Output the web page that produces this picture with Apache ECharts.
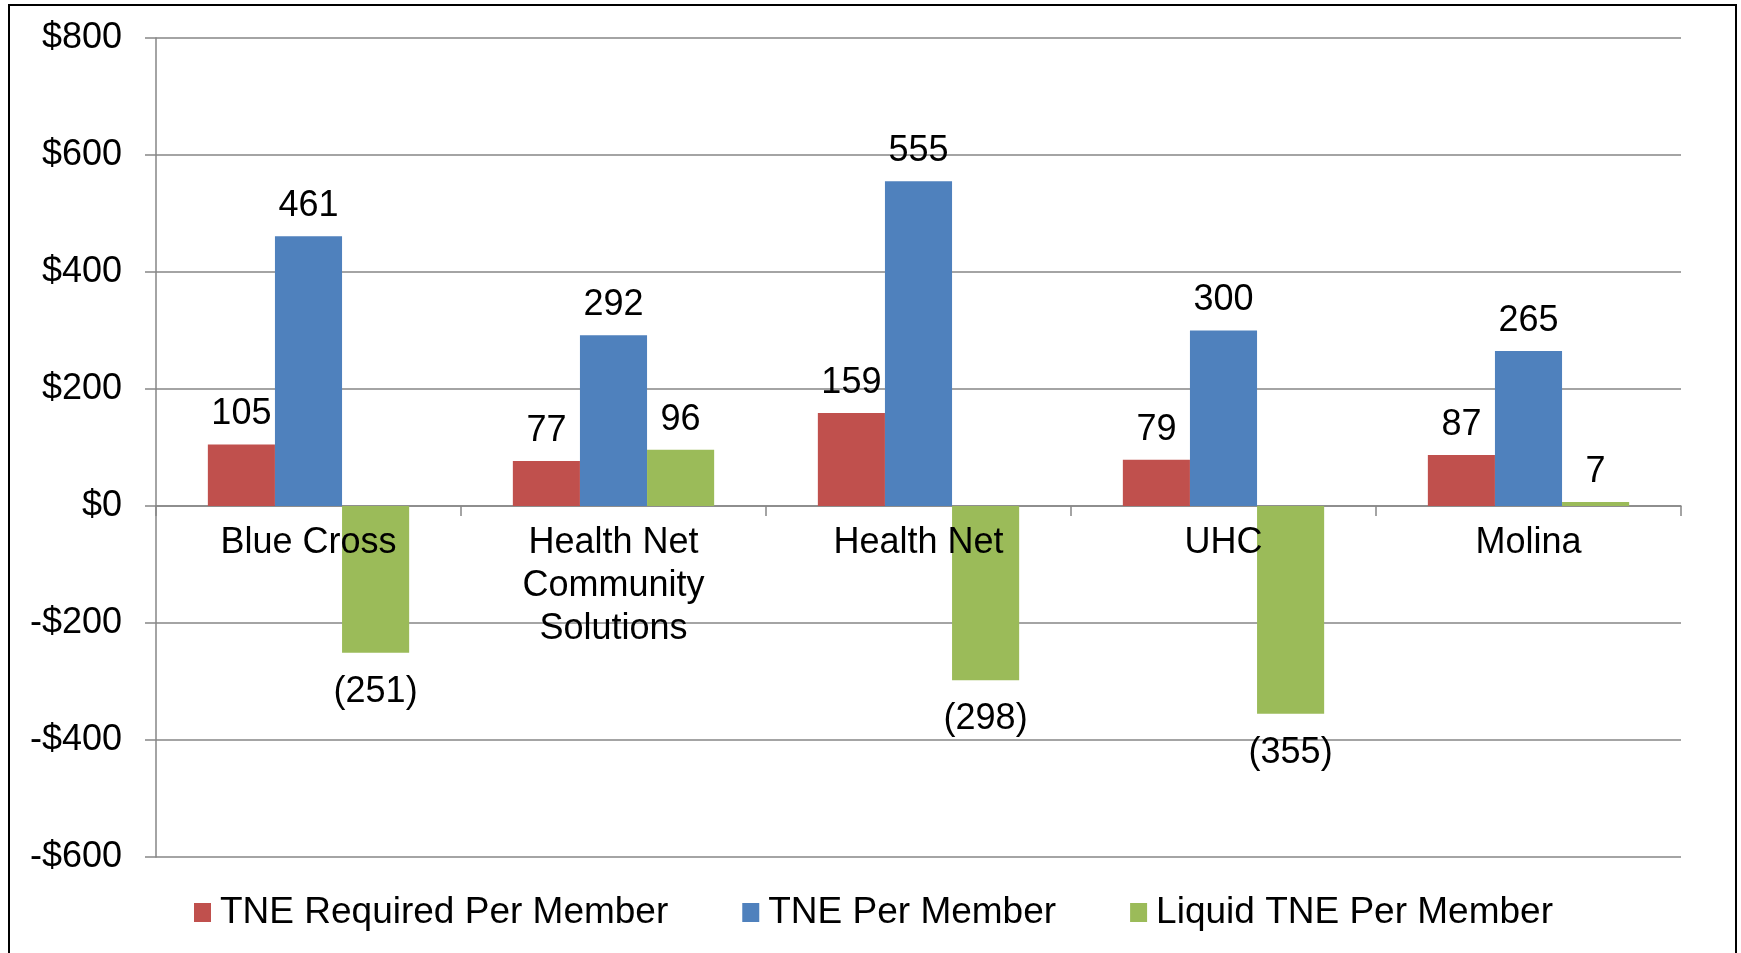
<!DOCTYPE html>
<html><head><meta charset="utf-8">
<script src="https://cdn.jsdelivr.net/npm/echarts@6/dist/echarts.min.js"></script>
<style>
html,body{margin:0;padding:0;background:#fff;}
#frame{position:absolute;left:8px;top:4px;width:1729px;height:960px;border:2px solid #000;border-bottom:none;box-sizing:border-box;}
#chart{position:absolute;left:0;top:0;width:1741px;height:953px;}
</style></head>
<body>
<div id="frame"></div>
<div id="chart"></div>
<script>
const categories = ['Blue Cross', 'Health Net\nCommunity\nSolutions', 'Health Net', 'UHC', 'Molina'];
const tneRequired = [105, 77, 159, 79, 87];
const tnePerMember = [461, 292, 555, 300, 265];
const liquidTne = [-251, 96, -298, -355, 7];
const seriesNames = ['TNE Required Per Member', 'TNE Per Member', 'Liquid TNE Per Member'];
const colors = ['#C0504D', '#4F81BD', '#9BBB59'];

const font = "'Liberation Sans', Arial, sans-serif";
const chart = echarts.init(document.getElementById('chart'));
function fmt(v){ return v < 0 ? '(' + Math.abs(v) + ')' : String(v); }
const labelCfg = {
  show: true, position: 'top', distance: 12,
  fontSize: 36, color: '#000', fontFamily: font,
  formatter: p => fmt(p.value)
};
const series = [tneRequired, tnePerMember, liquidTne].map((d, i) => ({
  name: seriesNames[i], type: 'bar', xAxisIndex: 0, z: 2,
  data: d.map(v => ({ value: v, label: { position: v < 0 ? 'bottom' : 'top', distance: v < 0 ? 21 : 12 } })),
  barGap: '0%', barCategoryGap: '34%',
  itemStyle: { color: colors[i] },
  label: labelCfg
}));
const axisGray = '#868686';
chart.setOption({
  animation: false,
  textStyle: { fontFamily: font },
  grid: { left: 156, right: 60, top: 38, bottom: 96, containLabel: false },
  legend: {
    data: seriesNames, left: 194, top: 894, padding: 0,
    itemWidth: 17, itemHeight: 19, itemGap: 74, icon: 'rect',
    textStyle: { fontSize: 37, color: '#000', fontFamily: font, padding: [0, 0, 0, 4] }
  },
  xAxis: [{
    type: 'category', data: categories,
    axisLine: { onZero: true, lineStyle: { color: axisGray, width: 1.5 } },
    axisTick: { show: true, length: 10, lineStyle: { color: axisGray, width: 1.5 } },
    axisLabel: { show: false },
    splitLine: { show: false }
  }, {
    type: 'category', data: categories, position: 'bottom', offset: -351, z: 10,
    axisLine: { show: false, onZero: false },
    axisTick: { show: false },
    axisLabel: { fontSize: 36, color: '#000', margin: 16, lineHeight: 43, fontFamily: font, interval: 0 },
    splitLine: { show: false }
  }],
  yAxis: {
    type: 'value', min: -600, max: 800, interval: 200,
    axisLine: { show: true, lineStyle: { color: axisGray, width: 1.5 } },
    axisTick: { show: true, length: 11, inside: false, lineStyle: { color: axisGray, width: 1.5 } },
    axisLabel: { fontSize: 36, color: '#000', margin: 34, fontFamily: font,
      formatter: v => (v < 0 ? '-$' + Math.abs(v) : '$' + v) },
    splitLine: { show: true, lineStyle: { color: axisGray, width: 1.5 } }
  },
  series: series
});
</script>
</body></html>
